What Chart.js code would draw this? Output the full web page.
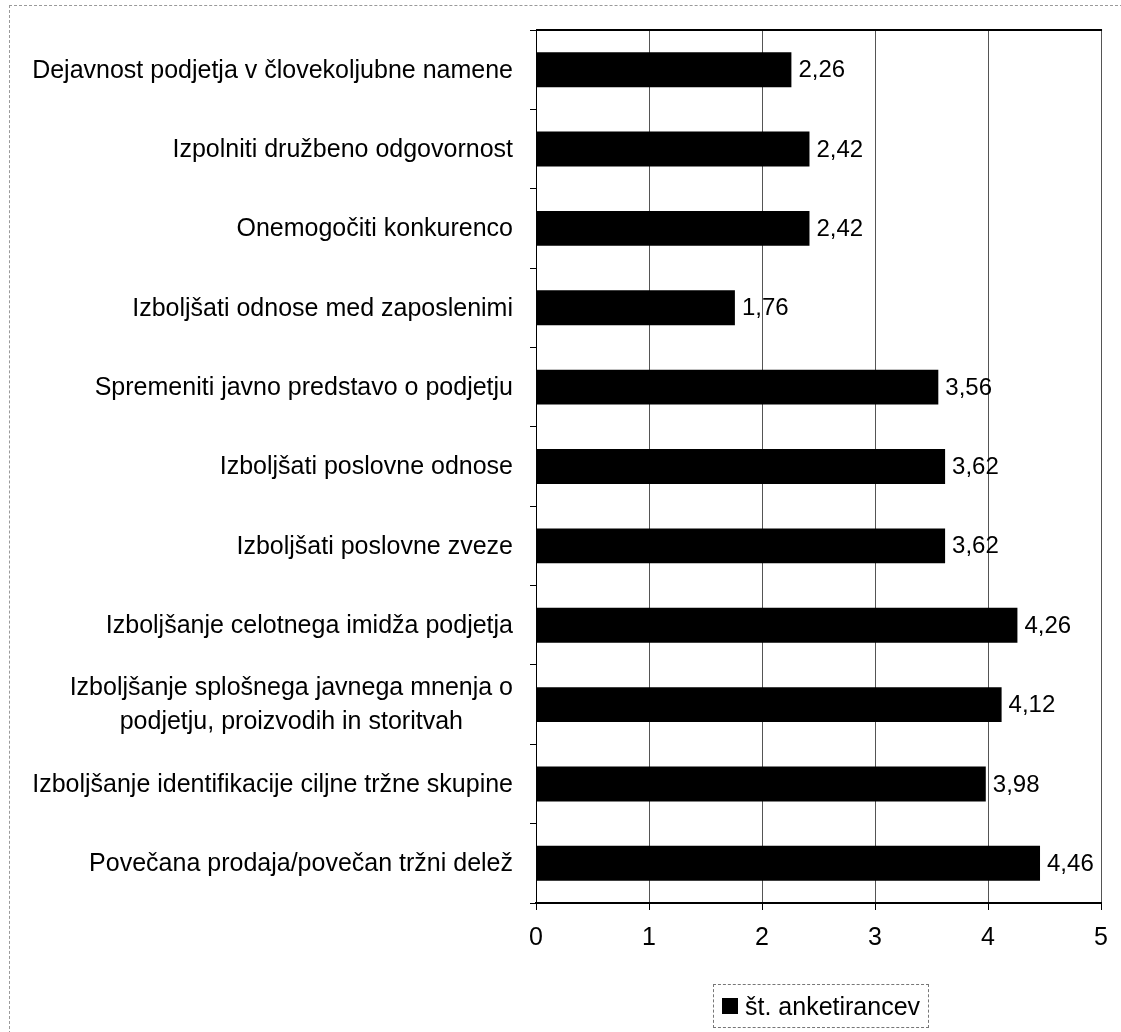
<!DOCTYPE html>
<html>
<head>
<meta charset="utf-8">
<script src="https://cdn.jsdelivr.net/npm/chart.js@4/dist/chart.umd.min.js"></script>
<style>
  html, body { margin: 0; padding: 0; background: #fff; }
  #wrap { position: relative; width: 1121px; height: 1032px; overflow: hidden; }
  #frame { position: absolute; left: 9px; top: 5px; right: -2px; bottom: -2px;
           border-top: 1px dashed #9a9a9a; border-left: 1px dashed #9a9a9a; }
  #chart { position: absolute; left: 0; top: 0; }
  #legend { position: absolute; left: 713px; top: 984px; width: 216px; height: 44px;
            border: 1px dashed #777; box-sizing: border-box;
            font: 25px "Liberation Sans", Arial, sans-serif; color: #000;
            display: flex; align-items: center; }
  #legend .box { width: 16px; height: 16px; background: #000; margin: 0 7px 0 8px; flex: none; }
</style>
</head>
<body>
<div id="wrap">
  <div id="frame"></div>
  <canvas id="chart" width="1121" height="1032"></canvas>
  <div id="legend"></div>
</div>
<script>
// Survey motives (top to bottom) and the average score for each
const categories = [
  'Dejavnost podjetja v človekoljubne namene',
  'Izpolniti družbeno odgovornost',
  'Onemogočiti konkurenco',
  'Izboljšati odnose med zaposlenimi',
  'Spremeniti javno predstavo o podjetju',
  'Izboljšati poslovne odnose',
  'Izboljšati poslovne zveze',
  'Izboljšanje celotnega imidža podjetja',
  ['Izboljšanje splošnega javnega mnenja o', 'podjetju, proizvodih in storitvah'],
  'Izboljšanje identifikacije ciljne tržne skupine',
  'Povečana prodaja/povečan tržni delež'
];
const values = [2.26, 2.42, 2.42, 1.76, 3.56, 3.62, 3.62, 4.26, 4.12, 3.98, 4.46];
const seriesLabel = 'št. anketirancev';
const xTicks = [0, 1, 2, 3, 4, 5];

const FONT = '"Liberation Sans", Arial, sans-serif';
const LABEL_SIZE = 25;
const VALUE_SIZE = 24;
const fmt = v => v.toFixed(2).replace('.', ',');

// Frame line along the top of the plot area
const plotTopBorder = {
  id: 'plotTopBorder',
  afterDraw(chart) {
    const { ctx, chartArea: a } = chart;
    ctx.save();
    ctx.strokeStyle = '#000';
    ctx.lineWidth = 2;
    ctx.beginPath();
    ctx.moveTo(a.left, Math.round(a.top));
    ctx.lineTo(a.right + 1, Math.round(a.top));
    ctx.stroke();
    ctx.restore();
  }
};

// Value text at the end of each bar
const valueLabels = {
  id: 'valueLabels',
  afterDatasetsDraw(chart) {
    const { ctx } = chart;
    const meta = chart.getDatasetMeta(0);
    const data = chart.data.datasets[0].data;
    ctx.save();
    ctx.font = VALUE_SIZE + 'px ' + FONT;
    ctx.fillStyle = '#000';
    ctx.textAlign = 'left';
    ctx.textBaseline = 'middle';
    meta.data.forEach((bar, i) => {
      ctx.fillText(fmt(data[i]), bar.x + 7, bar.y + 1);
    });
    ctx.restore();
  }
};

// Category names: block right-aligned to the axis, lines centred within the block
const categoryLabels = {
  id: 'categoryLabels',
  afterDraw(chart) {
    const { ctx, chartArea: a } = chart;
    const yScale = chart.scales.y;
    const right = a.left - 23;
    const lineH = 34;
    ctx.save();
    ctx.font = LABEL_SIZE + 'px ' + FONT;
    ctx.fillStyle = '#000';
    ctx.textAlign = 'center';
    ctx.textBaseline = 'middle';
    chart.data.labels.forEach((lab, i) => {
      const lines = Array.isArray(lab) ? lab : [lab];
      const w = Math.max(...lines.map(l => ctx.measureText(l).width));
      const cx = right - w / 2;
      const cy = yScale.getPixelForValue(i);
      lines.forEach((l, j) => {
        ctx.fillText(l, cx, cy + (j - (lines.length - 1) / 2) * lineH + 1);
      });
    });
    ctx.restore();
  }
};

new Chart(document.getElementById('chart'), {
  type: 'bar',
  data: {
    labels: categories,
    datasets: [{
      label: seriesLabel,
      data: values,
      backgroundColor: '#000',
      borderWidth: 0,
      barPercentage: 0.44,
      categoryPercentage: 1
    }]
  },
  options: {
    indexAxis: 'y',
    responsive: false,
    animation: false,
    layout: { padding: { left: 0, right: 16, top: 30, bottom: 0 } },
    plugins: { legend: { display: false }, tooltip: { enabled: false } },
    scales: {
      x: {
        min: xTicks[0],
        max: xTicks[xTicks.length - 1],
        afterBuildTicks(s) { s.ticks = xTicks.map(v => ({ value: v })); },
        ticks: { color: '#000', font: { family: FONT, size: LABEL_SIZE }, padding: 13 },
        grid: { color: '#555', lineWidth: 1, tickLength: 7, tickColor: '#000' },
        border: { color: '#000', width: 2 },
        afterFit(s) { s.height = 129; }
      },
      y: {
        ticks: { display: false },
        grid: { drawOnChartArea: false, tickLength: 6, tickColor: '#000', offset: true },
        border: { color: '#000', width: 1 },
        afterFit(s) { s.width = 536; }
      }
    }
  },
  plugins: [plotTopBorder, valueLabels, categoryLabels]
});

// Legend box below the axis
const legend = document.getElementById('legend');
const sw = document.createElement('span');
sw.className = 'box';
const txt = document.createElement('span');
txt.textContent = seriesLabel;
legend.appendChild(sw);
legend.appendChild(txt);
</script>
</body>
</html>
